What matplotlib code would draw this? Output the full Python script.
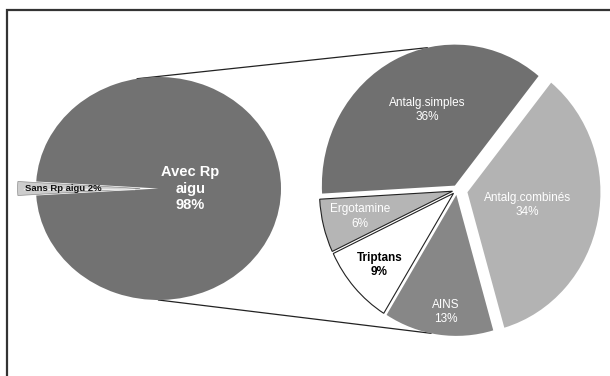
import numpy as np
import matplotlib.pyplot as plt

plt.rcParams['font.family'] = ['Liberation Sans', 'DejaVu Sans']

# left pie: with / without acute Rp
main_labels = ['Avec Rp\naigu', 'Sans Rp aigu']
main_values = [98, 2]

# right pie: treatments
sub_labels = ['Antalg.simples', 'Ergotamine', 'Triptans', 'AINS', 'Antalg.combinés']
sub_values = [36, 6, 9, 13, 34]

W, H = 610, 376
fig = plt.figure(figsize=(W / 100, H / 100), dpi=100, facecolor='white')

# overlay axes in pixel coords (y down) for frame and connector lines
ax0 = fig.add_axes([0, 0, 1, 1])
ax0.set_xlim(0, W)
ax0.set_ylim(H, 0)
ax0.axis('off')


def pie_axes(cx, cy, rx, ry, lim=1.4):
    # unit pie -> ellipse of rx, ry pixels centred on (cx, cy)
    ax = fig.add_axes([(cx - lim * rx) / W, (H - cy - lim * ry) / H,
                       2 * lim * rx / W, 2 * lim * ry / H])
    return ax


def finish(ax, lim=1.4):
    ax.set_aspect('auto')
    ax.set_xlim(-lim, lim)
    ax.set_ylim(-lim, lim)
    ax.axis('off')


# ---------------- left pie ----------------
Lc = (158.5, 188.5)
Lrx, Lry = 122.5, 111.5
axL = pie_axes(Lc[0], Lc[1], Lrx, Lry)
small = main_values[1] / sum(main_values) * 360
wL, _ = axL.pie(main_values, startangle=180 + small / 2, explode=[0, 0.15],
                colors=['#727272', '#cdcdcd'], counterclock=True,
                wedgeprops=dict(linewidth=0))
wL[1].set_edgecolor('#8c8c8c')
wL[1].set_linewidth(0.5)
finish(axL)
# light streak along the small wedge
axL.plot([-0.2, -1.1], [0, 0], color='white', lw=1.0, alpha=0.7)
axL.text(0.26, 0.0, '%s\n%d%%' % (main_labels[0], main_values[0]), color='white',
         fontsize=10.5, fontweight='bold', ha='center', va='center', linespacing=1.25)
axL.text(-1.09, 0.0, '%s %d%%' % (main_labels[1], main_values[1]), color='#111111',
         fontsize=6.8, fontweight='bold', ha='left', va='center')

# ---------------- right pie ----------------
Rc = (457, 190)
Rrx, Rry = 133, 141
axR = pie_axes(Rc[0], Rc[1], Rrx, Rry)
explode = [0.035, 0.035, 0.035, 0.035, 0.08]
colors = ['#707070', '#b5b5b5', 'white', '#878787', '#b3b3b3']
edges = ['none', '#222222', '#222222', 'none', 'none']
wR, _ = axR.pie(sub_values, startangle=51, explode=explode, colors=colors,
                wedgeprops=dict(linewidth=0.8))
for w, ec in zip(wR, edges):
    w.set_edgecolor(ec)
finish(axR)

# label placement: radial fraction and angle tweak per wedge
lab_r = [0.575, 0.72, 0.755, 0.835, 0.46]
lab_dt = [-5.5, 0, 0.5, 2, 0]
txt_col = ['white', 'white', 'black', 'white', 'white']
txt_wt = ['normal', 'normal', 'bold', 'normal', 'normal']
for i, w in enumerate(wR):
    mid = np.deg2rad((w.theta1 + w.theta2) / 2 + lab_dt[i])
    r = lab_r[i] + explode[i]
    axR.text(r * np.cos(mid), r * np.sin(mid),
             '%s\n%d%%' % (sub_labels[i], sub_values[i]),
             color=txt_col[i], fontweight=txt_wt[i], fontsize=8.5,
             ha='center', va='center', linespacing=1.3)


# ---------------- connectors ----------------
def right_pt(w, e, t):
    mid = np.deg2rad((w.theta1 + w.theta2) / 2)
    t = np.deg2rad(t)
    x = Rc[0] + e * Rrx * np.cos(mid) + Rrx * np.cos(t)
    y = Rc[1] - e * Rry * np.sin(mid) - Rry * np.sin(t)
    return x, y


def left_pt(t):
    t = np.deg2rad(t)
    return Lc[0] + Lrx * np.cos(t), Lc[1] - Lry * np.sin(t)


p1, q1 = left_pt(100), right_pt(wR[0], explode[0], 102)
p2, q2 = left_pt(270), right_pt(wR[3], explode[3], 259)
ax0.plot([p1[0], q1[0]], [p1[1], q1[1]], color='#222222', lw=0.9)
ax0.plot([p2[0], q2[0]], [p2[1], q2[1]], color='#222222', lw=0.9)

# frame (only left and top edges visible)
ax0.plot([7, 7, W + 5], [H + 5, 10, 10], color='#333333', lw=1.6,
         solid_joinstyle='miter')

fig.savefig('out.png', dpi=100, facecolor='white')
